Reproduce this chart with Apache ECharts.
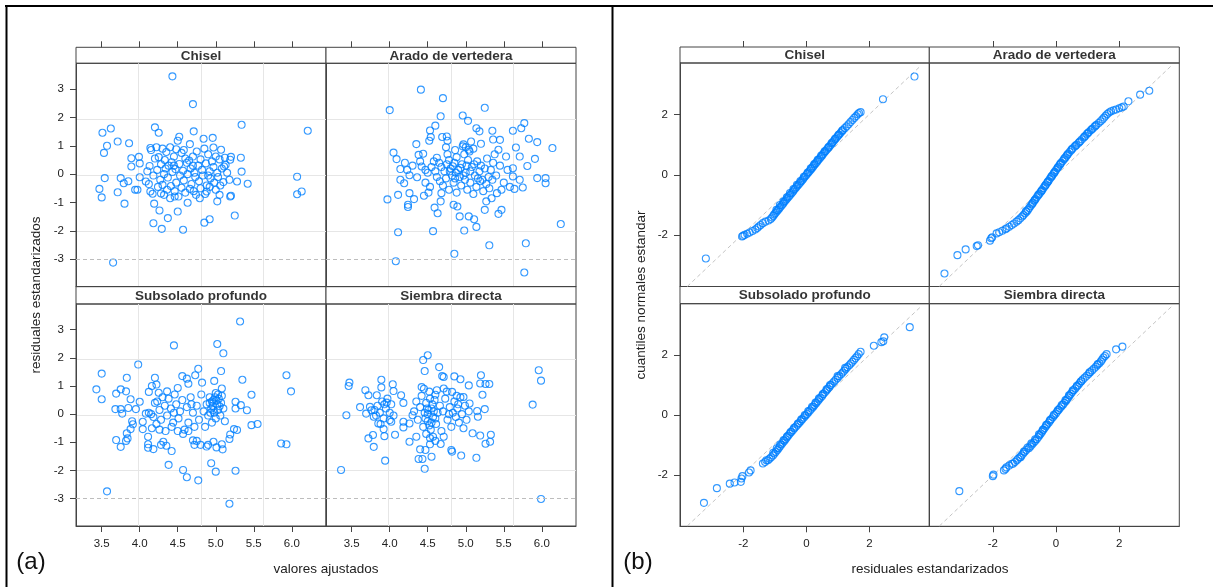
<!DOCTYPE html>
<html>
<head>
<meta charset="utf-8">
<script src="https://cdn.jsdelivr.net/npm/echarts@6/dist/echarts.min.js"></script>
<style>
html,body{margin:0;padding:0;background:#fff;}
#box{width:1213px;height:587px;}
</style>
</head>
<body>
<div id="box"></div>
<script>
// nombres de los paneles (orden lattice: fila superior, luego inferior)
var paneles = ['Chisel', 'Arado de vertedera', 'Subsolado profundo', 'Siembra directa'];

// marcas de los ejes
var ticksAjustados = [3.5, 4.0, 4.5, 5.0, 5.5, 6.0];
var ticksResiduales = [-3, -2, -1, 0, 1, 2, 3];
var ticksQQ = [-2, 0, 2];
var lineaCorte = -3;

// (a) residuales vs valores ajustados  [ajustado, residual]
var chisel = [
 [4.43,3.45],[4.70,2.47],[5.34,1.74],[6.21,1.53],[3.51,1.46],[3.62,1.61],[3.71,1.15],[3.57,1.00],[3.53,0.75],[3.86,1.09],
 [3.54,-0.14],[3.47,-0.52],[3.50,-0.82],[3.71,-0.64],[3.80,-1.04],[3.75,-0.14],[3.79,-0.32],[3.85,-0.25],[3.65,-3.12],[6.07,-0.09],
 [6.07,-0.71],[6.13,-0.61],[5.42,-0.34],[5.34,0.09],[5.33,0.58],[5.20,0.61],[5.25,-1.46],[5.19,-0.79],[5.02,-0.96],[4.92,-1.59],
 [4.85,-1.71],[4.57,-1.96],[4.29,-1.93],[4.18,-1.73],[4.37,-1.55],[4.26,-1.28],[4.19,-1.04],[4.50,-1.32],[4.63,-1.01],[4.20,1.65],
 [4.25,1.46],[4.52,1.32],[4.71,1.51],[4.84,1.25],[4.96,1.28],[5.07,0.86],[4.97,0.94],[4.66,1.06],[4.50,1.18],[4.14,0.92],
 [3.89,0.56],[3.99,0.61],[4.00,0.38],[3.89,0.27],[3.94,-0.55],[3.97,-0.55],[4.00,-0.11],[4.08,-0.26],[4.13,0.29],[4.14,-0.61],
 [4.17,-0.69],[4.28,-0.68],[4.32,-0.73],[4.40,-0.85],[4.46,-0.79],[4.51,-0.79],[4.74,-0.73],[4.79,-0.85],[4.88,-0.61],[5.05,-0.73],
 [5.20,-0.76],[5.28,-0.26],[5.11,0.27],[5.13,0.33],[5.19,0.51],
 [4.15,0.85],[4.22,0.95],[4.30,0.90],[4.35,0.78],[4.40,0.95],[4.45,0.62],[4.48,0.88],[4.55,0.75],[4.60,0.55],[4.65,0.48],
 [4.70,0.62],[4.75,0.80],[4.80,0.52],[4.85,0.90],[4.90,0.70],[4.95,0.45],[5.00,0.62],[5.05,0.52],[5.12,0.58],[4.20,0.55],
 [4.25,0.60],[4.28,0.35],[4.33,0.50],[4.38,0.30],[4.42,0.42],[4.47,0.18],[4.52,0.36],[4.57,0.12],[4.62,0.40],[4.67,0.20],
 [4.72,0.05],[4.77,0.30],[4.82,0.15],[4.87,0.38],[4.92,0.10],[4.97,0.25],[5.02,0.05],[5.08,0.20],[5.15,0.05],[4.10,0.10],
 [4.18,-0.05],[4.23,0.15],[4.27,-0.20],[4.32,0.00],[4.37,-0.12],[4.43,0.08],[4.48,-0.30],[4.53,-0.05],[4.58,-0.22],[4.63,0.00],
 [4.68,-0.35],[4.73,-0.10],[4.78,-0.25],[4.83,-0.05],[4.88,-0.40],[4.93,-0.15],[4.98,-0.30],[5.03,-0.10],[5.10,-0.28],[5.18,-0.20],
 [4.12,-0.35],[4.24,-0.45],[4.30,-0.38],[4.36,-0.55],[4.41,-0.42],[4.46,-0.60],[4.55,-0.48],[4.60,-0.65],[4.66,-0.52],[4.71,-0.60],
 [4.80,-0.50],[4.86,-0.70],[4.92,-0.45],[5.00,-0.55],[5.06,-0.40],[4.34,0.20],[4.58,0.85],[4.70,0.30],[4.90,-0.05],[4.45,0.30]
];
var arado = [
 [4.41,2.98],[4.70,2.68],[4.00,2.26],[5.25,2.34],[4.67,2.04],[4.96,2.07],[5.03,1.88],[5.77,1.80],[5.73,1.62],[5.62,1.53],
 [5.83,1.25],[5.94,1.13],[6.14,0.92],[5.91,0.54],[5.81,0.29],[5.94,-0.14],[6.05,-0.14],[6.05,-0.32],[6.25,-1.76],[5.79,-2.44],
 [5.77,-3.47],[5.31,-2.51],[4.85,-2.81],[4.08,-3.07],[4.11,-2.05],[4.57,-2.01],[4.98,-1.99],[5.14,-1.86],[5.11,-1.59],[5.04,-1.49],
 [4.92,-1.49],[5.43,-1.40],[5.47,-1.26],[5.25,-1.26],[3.97,-0.89],[4.11,-0.73],[4.24,-1.08],[4.24,-1.16],[4.26,-0.67],[4.32,-0.88],
 [4.45,-0.76],[4.51,-0.65],[4.59,-1.18],[4.63,-1.38],[4.67,-0.96],[4.68,-0.67],[4.84,-1.08],[4.89,-1.14],[4.05,0.76],[4.09,0.53],
 [4.14,0.18],[4.23,0.15],[4.26,-0.04],[4.14,-0.20],[4.19,-0.32],[4.35,1.06],[4.38,0.68],[4.44,0.72],[4.42,0.27],[4.36,-0.11],
 [4.53,1.54],[4.60,1.71],[4.54,1.31],[4.52,1.18],[4.69,1.31],[4.75,1.33],[4.76,1.18],[4.74,0.95],[4.62,0.58],[5.14,1.62],
 [5.18,1.51],[5.35,1.53],[5.20,1.07],[5.36,1.22],[5.45,1.21],[5.43,0.86],[5.53,0.62],[5.66,0.94],[5.71,0.62],[5.62,0.21],
 [5.62,-0.08],[5.71,-0.20],[5.75,-0.47],[5.64,-0.52],[5.47,-0.55],[5.41,-0.67],[5.34,-0.85],[5.27,-0.96],[4.96,0.98],[5.04,0.86],
 [4.65,0.40],[4.68,0.25],[4.72,0.10],[4.75,0.35],[4.78,0.50],[4.80,0.20],[4.82,-0.05],[4.85,0.40],[4.88,0.60],[4.90,0.15],
 [4.92,-0.10],[4.95,0.35],[4.98,0.70],[5.00,0.05],[5.03,0.50],[5.05,0.80],[5.08,0.25],[5.10,0.90],[5.12,-0.05],[5.15,0.45],
 [5.18,0.10],[5.20,0.30],[5.22,-0.20],[5.25,0.20],[5.28,0.55],[5.30,-0.10],[5.33,0.15],[5.36,0.40],[4.66,-0.25],[4.70,-0.40],
 [4.74,-0.15],[4.78,-0.55],[4.84,-0.30],[4.88,-0.65],[4.94,-0.40],[4.99,-0.20],[5.02,-0.55],[5.06,-0.30],[5.10,-0.70],[5.14,-0.45],
 [5.19,-0.25],[5.23,-0.60],[5.27,-0.35],[5.31,-0.50],[5.35,-0.20],[4.60,0.10],[4.62,-0.10],[4.55,0.25],[4.50,0.05],[4.47,-0.30],
 [4.53,-0.45],[4.58,0.45],[4.97,1.05],[5.07,1.15],[5.00,0.95],[4.86,0.85],[4.76,0.70],[5.38,0.70],[5.40,-0.05],[5.45,0.30],
 [5.50,-0.30],[5.55,0.15],[5.58,-0.45],[4.40,0.45],[4.30,0.30],[4.20,0.40],[4.47,0.15],
 [4.83,0.28],[4.87,0.05],[4.93,0.22],[4.97,-0.05],[5.01,0.30],[5.06,0.10],[5.11,0.35],[5.16,-0.15],[4.79,0.10],[4.86,-0.15]
];
var subsolado = [
 [5.32,3.29],[5.02,2.49],[5.10,2.16],[4.45,2.44],[3.98,1.76],[3.50,1.44],[3.43,0.88],[3.50,0.53],[3.69,0.73],[3.75,0.88],
 [3.82,0.81],[3.83,1.29],[3.88,0.53],[4.00,0.44],[3.68,0.18],[3.75,0.18],[3.77,0.02],[3.85,0.22],[3.95,0.18],[3.69,-0.92],
 [3.75,-1.16],[3.82,-0.95],[3.84,-0.86],[3.83,-0.68],[3.88,-0.53],[3.90,-0.25],[3.91,-0.36],[4.04,-0.53],[3.57,-2.74],[4.38,-1.80],
 [4.57,-1.98],[4.62,-2.24],[4.77,-2.35],[4.94,-1.74],[5.00,-2.04],[5.26,-2.01],[5.18,-3.18],[4.42,-1.31],[4.11,-0.80],[4.11,-1.19],
 [4.18,-1.24],[4.11,-1.07],[4.31,-0.98],[4.35,-1.12],[4.28,-1.09],[4.72,-1.09],[4.75,-0.95],[4.70,-0.93],[4.80,-1.09],[4.88,-1.15],
 [4.90,-1.09],[4.97,-0.98],[5.01,-1.18],[5.09,-1.25],[5.08,-1.07],[5.18,-0.88],[5.19,-0.72],[5.28,-0.56],[5.24,-0.53],[5.47,-0.39],
 [5.55,-0.35],[5.41,0.14],[5.26,0.20],[5.26,0.44],[5.33,0.32],[5.47,0.69],[5.35,1.22],[5.07,1.53],[4.98,1.18],[5.08,0.91],
 [4.77,1.61],[4.73,1.38],[4.56,1.35],[4.62,1.26],[4.64,1.08],[4.82,1.12],[4.20,1.29],[4.22,1.05],[4.16,1.00],[4.12,0.79],
 [4.25,0.76],[4.36,0.81],[4.50,0.93],[5.93,1.38],[5.99,0.81],[5.86,-1.04],[5.93,-1.07],[4.04,-0.27],
 [4.08,0.02],[4.12,0.05],[4.15,0.00],[4.18,-0.10],[4.20,0.40],[4.23,0.45],[4.26,0.15],[4.28,-0.20],[4.30,0.60],[4.33,0.30],
 [4.36,-0.05],[4.38,0.55],[4.41,0.20],[4.44,-0.30],[4.46,0.70],[4.48,0.35],[4.51,-0.15],[4.53,0.10],[4.56,0.50],[4.59,-0.55],
 [4.62,0.25],[4.64,-0.30],[4.67,0.60],[4.70,0.05],[4.72,-0.45],[4.75,0.30],[4.78,-0.20],[4.81,0.70],[4.84,0.10],[4.86,-0.45],
 [4.88,0.35],[4.90,-0.05],[4.92,0.60],[4.94,0.20],[4.95,-0.30],[4.97,0.50],[4.98,0.05],[5.00,0.75],[5.00,-0.15],[5.02,0.35],
 [5.03,0.15],[5.04,0.55],[5.06,-0.05],[5.07,0.40],[5.08,0.65],[5.10,0.20],[5.12,-0.25],[4.96,0.30],[4.92,0.40],[5.05,0.28],
 [4.26,-0.55],[4.34,-0.60],[4.42,-0.45],[4.50,-0.60],[4.57,-0.70],[4.64,-0.60],[4.22,-0.35],[4.16,-0.50],[4.45,0.05],[4.68,0.35],
 [4.95,0.45],[4.99,0.60],[5.01,0.48],[4.97,0.15],[5.03,0.70],[4.93,0.05]
];
var siembra = [
 [3.36,-1.98],[3.43,-0.04],[3.47,1.12],[3.46,1.00],[3.61,0.25],[3.68,0.85],[3.69,0.02],[3.72,0.67],[3.74,0.26],[3.76,0.14],
 [3.79,-0.09],[3.72,-0.86],[3.78,-0.74],[3.79,-1.16],[3.83,0.67],[3.85,-0.33],[3.89,1.22],[3.89,0.95],[3.94,-1.65],[3.92,-0.53],
 [3.93,-0.78],[3.96,0.41],[4.00,-0.21],[4.02,-0.27],[4.04,1.06],[4.05,0.82],[4.07,-0.73],[4.15,0.67],[4.18,0.40],[4.18,-0.27],
 [4.18,-0.47],[4.26,-0.98],[4.26,-0.33],[4.30,-0.04],[4.35,-0.80],[4.38,-1.59],[4.40,-1.25],[4.42,0.96],[4.44,1.92],[4.50,2.09],
 [4.46,1.53],[4.47,-1.27],[4.46,-1.94],[4.43,-1.59],[4.55,-1.51],[4.65,1.67],[4.69,1.35],[4.71,1.32],[4.85,1.34],[4.93,1.24],
 [5.04,1.02],[5.20,1.38],[5.19,1.09],[5.26,1.07],[5.31,1.07],[5.22,0.69],[5.25,0.18],[5.15,0.11],[5.16,-0.09],[5.09,-0.68],
 [5.19,-0.76],[5.26,-1.05],[5.33,-0.73],[5.32,-0.98],[5.14,-1.55],[4.94,-1.47],[4.82,-1.33],[4.81,-1.27],[4.67,-1.06],[4.53,-1.07],
 [4.57,-0.80],[4.71,-0.80],[5.96,1.56],[5.99,1.19],[5.88,0.34],[5.99,-3.01],[4.60,0.69],[4.71,0.91],[4.82,0.79],[4.97,0.61],
 [5.05,0.38],
 [3.80,0.15],[3.84,0.30],[3.87,0.05],[3.90,0.45],[3.92,-0.15],[3.95,0.20],[3.97,0.55],[4.00,0.05],[4.02,0.35],[3.88,-0.35],
 [3.82,-0.05],[4.05,-0.05],[3.93,0.35],[4.32,0.10],[4.35,0.45],[4.37,-0.20],[4.40,0.25],[4.42,0.65],[4.44,-0.45],[4.46,0.05],
 [4.48,0.40],[4.50,-0.25],[4.52,0.80],[4.54,-0.55],[4.55,0.20],[4.57,-0.10],[4.59,0.50],[4.61,-0.35],[4.63,0.05],[4.66,0.30],
 [4.68,-0.60],[4.70,0.10],[4.73,0.55],[4.76,-0.20],[4.79,0.25],[4.81,-0.45],[4.83,0.05],[4.85,0.45],[4.87,-0.10],[4.89,0.20],
 [4.91,-0.30],[4.93,0.60],[4.95,0.00],[4.97,-0.50],[4.99,0.30],[5.01,-0.20],[5.04,0.10],[4.50,0.00],[4.48,-0.70],[4.58,0.10],
 [4.45,0.90],[4.62,0.85],[4.75,0.80],[4.88,0.65],[4.78,0.00],[4.90,0.35],[4.53,-0.85],[4.60,-0.95],
 [4.47,-0.15],[4.52,-0.40],[4.55,-0.30],[4.49,0.20],[4.56,0.35],[4.53,0.55],[4.60,-0.15],[4.51,0.15]
];

// (b) grafico cuantil-cuantil  [residual, cuantil normal]
var qqChisel = [
 [-3.19,-2.77],[-2.04,-2.04],[-2.01,-2.02],[-1.96,-1.99],[-1.88,-1.95],[-1.80,-1.91],[-1.71,-1.86],[-1.62,-1.81],[-1.56,-1.76],[-1.51,-1.71],
 [-1.45,-1.66],[-1.38,-1.60],[-1.30,-1.55],[-1.20,-1.51],[-1.13,-1.46],[-1.09,-1.41],[-1.05,-1.36],[-1.02,-1.31],[-0.98,-1.26],[-0.94,-1.21],
 [-0.90,-1.16],[-0.86,-1.11],[-0.82,-1.06],[-0.78,-1.01],[-0.74,-0.96],[-0.71,-0.91],[-0.67,-0.86],[-0.63,-0.81],[-0.59,-0.76],[-0.55,-0.71],
 [-0.51,-0.66],[-0.47,-0.61],[-0.43,-0.56],[-0.40,-0.51],[-0.36,-0.46],[-0.32,-0.41],[-0.28,-0.36],[-0.24,-0.31],[-0.20,-0.26],[-0.16,-0.21],
 [-0.12,-0.16],[-0.09,-0.11],[-0.05,-0.06],[-0.01,-0.01],[0.03,0.04],[0.07,0.09],[0.11,0.14],[0.15,0.19],[0.19,0.24],[0.22,0.29],
 [0.26,0.34],[0.30,0.39],[0.34,0.44],[0.38,0.49],[0.42,0.54],[0.46,0.59],[0.50,0.64],[0.53,0.69],[0.57,0.74],[0.61,0.79],
 [0.65,0.84],[0.69,0.89],[0.73,0.94],[0.77,0.99],[0.81,1.04],[0.84,1.09],[0.88,1.14],[0.92,1.19],[0.96,1.24],[1.00,1.29],
 [1.04,1.34],[1.08,1.39],[1.12,1.44],[1.16,1.49],[1.22,1.55],[1.28,1.61],[1.34,1.68],[1.40,1.75],[1.46,1.82],[1.52,1.89],
 [1.58,1.95],[1.63,2.01],[1.67,2.05],[1.72,2.08],[2.43,2.51],[3.43,3.26],
 [-0.95,-1.16],[-0.73,-0.88],[-0.52,-0.60],[-0.30,-0.33],[-0.08,-0.06],[0.14,0.22],[0.36,0.50],[0.58,0.78],[0.80,1.06],[1.02,1.33],
 [-0.84,-1.00],[-0.62,-0.74],[-0.41,-0.47],[-0.19,-0.20],[0.04,0.08],[0.25,0.36],[0.47,0.64],[0.70,0.92],[0.91,1.20],[1.14,1.47]
];
var qqArado = [
 [-3.53,-3.27],[-3.12,-2.66],[-2.86,-2.47],[-2.51,-2.36],[-2.47,-2.33],[-2.09,-2.18],[-2.05,-2.10],[-2.02,-2.07],[-1.88,-1.94],[-1.80,-1.90],
 [-1.70,-1.85],[-1.60,-1.80],[-1.56,-1.77],[-1.48,-1.72],[-1.40,-1.66],[-1.33,-1.61],[-1.25,-1.55],[-1.19,-1.50],[-1.13,-1.44],[-1.07,-1.38],
 [-1.03,-1.33],[-0.98,-1.27],[-0.93,-1.22],[-0.89,-1.16],[-0.85,-1.10],[-0.81,-1.04],[-0.77,-0.98],[-0.73,-0.92],[-0.69,-0.86],[-0.65,-0.80],
 [-0.61,-0.74],[-0.57,-0.68],[-0.52,-0.62],[-0.48,-0.56],[-0.44,-0.50],[-0.40,-0.44],[-0.36,-0.38],[-0.32,-0.32],[-0.28,-0.26],[-0.24,-0.20],
 [-0.20,-0.14],[-0.16,-0.08],[-0.12,-0.02],[-0.08,0.04],[-0.04,0.10],[0.00,0.16],[0.04,0.22],[0.08,0.28],[0.12,0.34],[0.16,0.40],
 [0.21,0.46],[0.25,0.52],[0.30,0.58],[0.34,0.64],[0.38,0.70],[0.43,0.76],[0.48,0.82],[0.53,0.88],[0.59,0.94],[0.65,1.00],
 [0.71,1.06],[0.77,1.12],[0.82,1.18],[0.88,1.24],[0.93,1.30],[0.98,1.36],[1.04,1.42],[1.10,1.48],[1.16,1.54],[1.22,1.60],
 [1.28,1.66],[1.35,1.72],[1.41,1.78],[1.47,1.84],[1.52,1.90],[1.57,1.96],[1.62,2.02],[1.68,2.07],[1.74,2.11],[1.82,2.14],
 [1.90,2.17],[2.00,2.21],[2.08,2.24],[2.14,2.27],[2.29,2.44],[2.66,2.66],[2.95,2.79],
 [-0.95,-1.20],[-0.75,-0.95],[-0.55,-0.65],[-0.34,-0.35],[-0.14,-0.05],[0.06,0.25],[0.27,0.55],[0.50,0.85],[0.74,1.09],[1.01,1.39],
 [1.25,1.63],[-0.67,-0.83],[-0.46,-0.53],[-0.26,-0.23],[-0.06,0.07],[0.14,0.37],[0.36,0.67],[0.62,0.97],[0.90,1.27],[1.13,1.51]
];
var qqSubsolado = [
 [-3.25,-2.92],[-2.84,-2.43],[-2.43,-2.28],[-2.28,-2.24],[-2.08,-2.22],[-2.06,-2.11],[-2.03,-2.03],[-1.82,-1.91],[-1.77,-1.84],[-1.38,-1.61],
 [-1.31,-1.56],[-1.22,-1.50],[-1.17,-1.45],[-1.12,-1.40],[-1.06,-1.34],[-1.01,-1.28],[-0.97,-1.22],[-0.92,-1.16],[-0.88,-1.10],[-0.84,-1.04],
 [-0.79,-0.98],[-0.75,-0.92],[-0.70,-0.86],[-0.66,-0.80],[-0.62,-0.74],[-0.57,-0.68],[-0.53,-0.62],[-0.48,-0.56],[-0.43,-0.50],[-0.38,-0.44],
 [-0.33,-0.38],[-0.28,-0.32],[-0.23,-0.26],[-0.18,-0.20],[-0.13,-0.14],[-0.08,-0.08],[-0.03,-0.02],[0.02,0.04],[0.07,0.10],[0.12,0.16],
 [0.17,0.22],[0.22,0.28],[0.26,0.34],[0.31,0.40],[0.36,0.46],[0.40,0.52],[0.45,0.58],[0.50,0.64],[0.54,0.70],[0.59,0.76],
 [0.64,0.82],[0.68,0.88],[0.73,0.94],[0.78,1.00],[0.83,1.06],[0.88,1.12],[0.93,1.18],[0.99,1.24],[1.04,1.30],[1.10,1.36],
 [1.15,1.42],[1.20,1.48],[1.25,1.54],[1.30,1.60],[1.36,1.66],[1.41,1.72],[1.46,1.78],[1.51,1.84],[1.56,1.90],[1.61,1.96],
 [1.66,2.03],[1.72,2.11],[2.14,2.31],[2.38,2.43],[2.44,2.46],[2.47,2.59],[3.28,2.93],
 [-1.27,-1.50],[-1.05,-1.25],[-0.83,-0.97],[-0.61,-0.70],[-0.39,-0.42],[-0.16,-0.14],[0.06,0.14],[0.29,0.42],[0.52,0.70],[0.75,1.00],
 [0.99,1.30],[1.23,1.58],[-0.94,-1.10],[-0.72,-0.83],[-0.50,-0.56],[-0.27,-0.28],[-0.05,0.00],[0.18,0.28],[0.40,0.56],[0.64,0.86]
];
var qqSiembra = [
 [-3.06,-2.53],[-2.00,-2.03],[-1.98,-1.98],[-1.65,-1.84],[-1.60,-1.79],[-1.57,-1.74],[-1.48,-1.68],[-1.40,-1.62],[-1.30,-1.56],[-1.24,-1.50],
 [-1.20,-1.45],[-1.15,-1.40],[-1.09,-1.34],[-1.04,-1.28],[-0.99,-1.22],[-0.94,-1.16],[-0.86,-1.10],[-0.81,-1.04],[-0.76,-0.98],[-0.71,-0.92],
 [-0.66,-0.86],[-0.61,-0.80],[-0.56,-0.73],[-0.52,-0.67],[-0.48,-0.61],[-0.44,-0.55],[-0.40,-0.49],[-0.36,-0.43],[-0.32,-0.37],[-0.28,-0.31],
 [-0.23,-0.25],[-0.19,-0.19],[-0.15,-0.13],[-0.10,-0.07],[-0.06,-0.01],[-0.01,0.05],[0.03,0.11],[0.08,0.17],[0.12,0.23],[0.17,0.29],
 [0.22,0.35],[0.26,0.41],[0.31,0.47],[0.35,0.53],[0.39,0.59],[0.43,0.65],[0.47,0.71],[0.51,0.77],[0.56,0.83],[0.61,0.89],
 [0.66,0.95],[0.71,1.01],[0.75,1.07],[0.80,1.13],[0.85,1.19],[0.91,1.25],[0.97,1.31],[1.03,1.37],[1.08,1.43],[1.14,1.49],
 [1.20,1.55],[1.26,1.61],[1.31,1.67],[1.37,1.73],[1.42,1.79],[1.46,1.85],[1.50,1.92],[1.55,1.97],[1.60,2.03],[1.90,2.19],
 [2.10,2.28],
 [-1.36,-1.62],[-1.12,-1.40],[-0.90,-1.08],[-0.66,-0.80],[-0.42,-0.49],[-0.19,-0.16],[0.06,0.17],[0.30,0.50],[0.53,0.83],[0.79,1.13],
 [1.06,1.43],[1.32,1.70],[-1.02,-1.22],[-0.78,-0.94],[-0.54,-0.64],[-0.31,-0.32],[-0.07,0.01],[0.18,0.34],[0.41,0.66],[0.66,0.98]
];
// recta de referencia de cada panel (extremos)
var rectaChisel = [[-3.78,-3.70],[3.64,3.63]];
var rectaArado = [[-3.69,-3.69],[3.66,3.63]];
var rectaSubsolado = [[-3.78,-3.69],[3.64,3.62]];
var rectaSiembra = [[-3.69,-3.69],[3.66,3.62]];

var datosA = [chisel, arado, subsolado, siembra];
var datosB = [qqChisel, qqArado, qqSubsolado, qqSiembra];
var rectasB = [rectaChisel, rectaArado, rectaSubsolado, rectaSiembra];

var AZUL = '#0080ff';
var FUENTE = '"Liberation Sans", Arial, sans-serif';
var BORDE = '#444';

// cajas de los paneles
var cajasA = [
 {left:76, top:63.3, w:250, h:223.4, col:0, row:0, strip:47.3},
 {left:326, top:63.3, w:250, h:223.4, col:1, row:0, strip:47.3},
 {left:76, top:304, w:250, h:222, col:0, row:1, strip:286.7},
 {left:326, top:304, w:250, h:222, col:1, row:1, strip:286.7}
];
var cajasB = [
 {left:680, top:63, w:249.3, h:223.5, col:0, row:0, strip:47},
 {left:929.3, top:63, w:250, h:223.5, col:1, row:0, strip:47},
 {left:680, top:303.7, w:249.3, h:222.6, col:0, row:1, strip:286.5},
 {left:929.3, top:303.7, w:250, h:222.6, col:1, row:1, strip:286.5}
];

var grids = [], xAxes = [], yAxes = [], series = [], graficos = [];

function etiqueta(show, vals, fmt) {
	// las etiquetas que no van se dejan transparentes
	return {show:true, customValues:vals, formatter:fmt, fontFamily:FUENTE, fontSize:11.5,
		color: show ? '#222' : 'rgba(0,0,0,0)', margin:12};
}
// linea de eje visible (coincide con el borde del panel) para que las marcas se dibujen
function lineaEje(color) {
	return {show:true, onZero:false, lineStyle:{color:color, width:1}};
}
var sinEje = {axisLine:{show:false, onZero:false}, axisTick:{show:false}, axisLabel:{show:false}, splitLine:{show:false}};

function agregarPanel(c, nombre, xr, yr, xt, yt, fmtX, conGrilla) {
	// tira con el nombre del tratamiento (solo caja)
	var gs = grids.length;
	grids.push({left:c.left, top:c.strip, width:c.w, height:c.top - c.strip, show:true,
		borderColor:BORDE, borderWidth:1, backgroundColor:'#fff'});
	xAxes.push(Object.assign({gridIndex:gs, type:'value', min:0, max:1}, sinEje));
	yAxes.push(Object.assign({gridIndex:gs, type:'value', min:0, max:1}, sinEje));

	var g = grids.length;
	grids.push({left:c.left, top:c.top, width:c.w, height:c.h, show:true,
		borderColor:BORDE, borderWidth:1, backgroundColor:'rgba(0,0,0,0)'});
	var xi = xAxes.length;
	xAxes.push({
		gridIndex:g, type:'value', min:xr[0], max:xr[1], position:'bottom',
		axisLine:lineaEje(BORDE),
		axisTick:{show:c.row === 1, length:6, customValues:xt, lineStyle:{color:BORDE}},
		axisLabel:etiqueta(c.row === 1, xt, fmtX),
		splitLine:{show:false}
	});
	var yi = yAxes.length;
	yAxes.push({
		gridIndex:g, type:'value', min:yr[0], max:yr[1], position:'left',
		axisLine:lineaEje(BORDE),
		axisTick:{show:c.col === 0, length:6, customValues:yt, lineStyle:{color:BORDE}},
		axisLabel:etiqueta(c.col === 0, yt, function(v){ return String(v); }),
		splitLine:{show:false}
	});
	if (conGrilla) {
		// lineas de grilla equiespaciadas (panel.grid de lattice)
		var sl = {show:true, showMinLine:false, showMaxLine:false, lineStyle:{color:'#e6e6e6', width:1}};
		xAxes.push({gridIndex:g, type:'value', min:0, max:4, interval:1, position:'top',
			axisLine:{show:false, onZero:false}, axisTick:{show:false}, axisLabel:{show:false}, splitLine:sl});
		yAxes.push({gridIndex:g, type:'value', min:0, max:4, interval:1, position:'right',
			axisLine:{show:false, onZero:false}, axisTick:{show:false}, axisLabel:{show:false}, splitLine:sl});
	}

	// franja fina encima de la tira: su eje inferior lleva las marcas superiores del panel
	// y su serie escribe el nombre del tratamiento dentro de la tira
	var gt = grids.length;
	grids.push({left:c.left, top:c.strip - 12, width:c.w, height:6, show:false});
	var tx = xAxes.length;
	xAxes.push({
		gridIndex:gt, type:'value', min:xr[0], max:xr[1], position:'bottom',
		axisLine:lineaEje('rgba(0,0,0,0)'),
		axisTick:{show:c.row === 0, length:6, customValues:xt, lineStyle:{color:BORDE}},
		axisLabel:etiqueta(false, xt, fmtX),
		splitLine:{show:false}
	});
	var ty = yAxes.length;
	yAxes.push(Object.assign({gridIndex:gt, type:'value', min:0, max:1}, sinEje));
	series.push({
		type:'scatter', xAxisIndex:tx, yAxisIndex:ty, silent:true, clip:false, z:5,
		data:[[(xr[0] + xr[1]) / 2, 0]], symbol:'circle', symbolSize:1,
		itemStyle:{color:'rgba(0,0,0,0)'},
		label:{show:true, position:'inside', formatter:nombre, offset:[0, (c.top - c.strip) / 2 + 6.5],
			fontFamily:FUENTE, fontWeight:'bold', fontSize:13.5, color:'#000'}
	});
	return {x:xi, y:yi};
}

var puntos = {symbol:'circle', symbolSize:7,
	itemStyle:{color:'rgba(0,0,0,0)', borderColor:AZUL, borderWidth:1.1}};

for (var i = 0; i < 4; i++) {
	var ej = agregarPanel(cajasA[i], paneles[i], [3.162, 6.45], [-3.97, 3.91],
		ticksAjustados, ticksResiduales, function(v){ return v.toFixed(1); }, true);
	series.push({
		type:'scatter', xAxisIndex:ej.x, yAxisIndex:ej.y, data:datosA[i],
		symbol:puntos.symbol, symbolSize:puntos.symbolSize, itemStyle:puntos.itemStyle, silent:true,
		markLine:{silent:true, symbol:['none','none'], label:{show:false},
			lineStyle:{type:[4,3], color:'#bdbdbd', width:1}, data:[{yAxis:lineaCorte}]}
	});
}
for (var j = 0; j < 4; j++) {
	var eb = agregarPanel(cajasB[j], paneles[j], [-4.01, 3.90], [-3.70, 3.71],
		ticksQQ, ticksQQ, function(v){ return String(v); }, false);
	series.push({
		type:'line', xAxisIndex:eb.x, yAxisIndex:eb.y, data:rectasB[j],
		showSymbol:false, symbol:'none', silent:true, z:1,
		lineStyle:{type:[4,3], color:'#c4c4c4', width:1}
	});
	series.push({
		type:'scatter', xAxisIndex:eb.x, yAxisIndex:eb.y, data:datosB[j],
		symbol:puntos.symbol, symbolSize:puntos.symbolSize, itemStyle:puntos.itemStyle, silent:true
	});
}

// titulos de ejes y rotulos (a) (b)
graficos.push({type:'text', x:326, y:569, style:{text:'valores ajustados', textAlign:'center',
	textVerticalAlign:'middle', font:'13.5px ' + FUENTE, fill:'#222'}});
graficos.push({type:'text', x:930, y:569, style:{text:'residuales estandarizados', textAlign:'center',
	textVerticalAlign:'middle', font:'13.5px ' + FUENTE, fill:'#222'}});
graficos.push({type:'text', x:36, y:295, rotation:Math.PI / 2, style:{text:'residuales estandarizados',
	textAlign:'center', textVerticalAlign:'middle', font:'13.5px ' + FUENTE, fill:'#222'}});
graficos.push({type:'text', x:641, y:295, rotation:Math.PI / 2, style:{text:'cuantiles normales estandar',
	textAlign:'center', textVerticalAlign:'middle', font:'13.5px ' + FUENTE, fill:'#222'}});
graficos.push({type:'text', x:31, y:562, style:{text:'(a)', textAlign:'center',
	textVerticalAlign:'middle', font:'24px ' + FUENTE, fill:'#111'}});
graficos.push({type:'text', x:638, y:562, style:{text:'(b)', textAlign:'center',
	textVerticalAlign:'middle', font:'24px ' + FUENTE, fill:'#111'}});
// marco de la tabla
graficos.push({type:'line', shape:{x1:5, y1:6, x2:1213, y2:6}, style:{stroke:'#000', lineWidth:2}});
graficos.push({type:'line', shape:{x1:6.5, y1:5, x2:6.5, y2:587}, style:{stroke:'#000', lineWidth:2}});
graficos.push({type:'line', shape:{x1:612.5, y1:5, x2:612.5, y2:587}, style:{stroke:'#000', lineWidth:2}});

var myChart = echarts.init(document.getElementById('box'));
var option = {
	animation:false,
	backgroundColor:'#fff',
	grid:grids,
	xAxis:xAxes,
	yAxis:yAxes,
	series:series,
	graphic:graficos
};
if (option && typeof option === 'object') {
	myChart.setOption(option, true);
}
</script>
</body>
</html>
